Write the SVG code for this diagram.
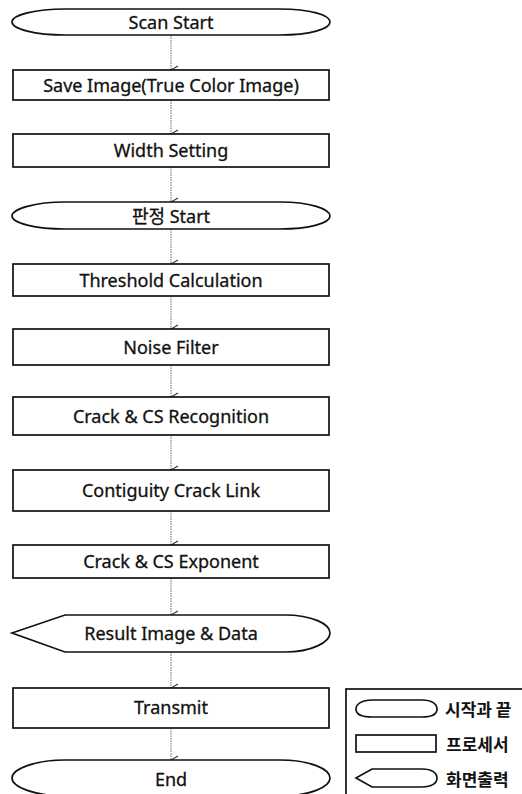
<svg xmlns="http://www.w3.org/2000/svg" width="522" height="794" viewBox="0 0 522 794">
<defs>
<style>
.s{fill:#fff;stroke:#111;stroke-width:1.7}
.t{font-family:"Noto Sans","Noto Sans CJK KR",sans-serif;font-size:18px;fill:#111;stroke:#111;stroke-width:0.3;text-anchor:middle;dominant-baseline:central}
.lt{font-family:"Noto Sans CJK KR",sans-serif;font-size:17px;font-weight:bold;fill:#111;dominant-baseline:central}
.c{stroke:#666;stroke-width:1;stroke-dasharray:1.5 1;fill:none}
</style>
<marker id="ah" viewBox="0 0 10 10" refX="5" refY="9" markerWidth="10" markerHeight="10" markerUnits="userSpaceOnUse" orient="auto-start-reverse">
<path d="M1,2 L5,9 L9,2" fill="none" stroke="#333" stroke-width="1.1"/>
</marker>
</defs>
<rect width="522" height="794" fill="#fff"/>
<g id="connectors">
<line class="c" x1="171" y1="35" x2="171" y2="70" marker-end="url(#ah)"/>
<line class="c" x1="171" y1="100" x2="171" y2="134" marker-end="url(#ah)"/>
<line class="c" x1="171" y1="167" x2="171" y2="202" marker-end="url(#ah)"/>
<line class="c" x1="171" y1="229" x2="171" y2="264" marker-end="url(#ah)"/>
<line class="c" x1="171" y1="296" x2="171" y2="329" marker-end="url(#ah)"/>
<line class="c" x1="171" y1="365" x2="171" y2="397" marker-end="url(#ah)"/>
<line class="c" x1="171" y1="435" x2="171" y2="470" marker-end="url(#ah)"/>
<line class="c" x1="171" y1="511" x2="171" y2="545" marker-end="url(#ah)"/>
<line class="c" x1="171" y1="578" x2="171" y2="615" marker-end="url(#ah)"/>
<line class="c" x1="171" y1="652" x2="171" y2="688" marker-end="url(#ah)"/>
<line class="c" x1="171" y1="728" x2="171" y2="760" marker-end="url(#ah)"/>
</g>
<g id="n1">
<path class="s" d="M12,22 C12,15 35,9 65,9 L280,9 C310,9 330,15 330,22 C330,29 310,35 280,35 L65,35 C35,35 12,29 12,22 Z"/>
<text class="t" x="171" y="22">Scan Start</text>
</g>
<g id="n2">
<rect class="s" x="13" y="70" width="316" height="30"/>
<text class="t" x="171" y="85">Save Image(True Color Image)</text>
</g>
<g id="n3">
<rect class="s" x="13" y="134" width="316" height="33"/>
<text class="t" x="171" y="150">Width Setting</text>
</g>
<g id="n4">
<path class="s" d="M12,216 C12,209 35,202 65,202 L280,202 C310,202 330,209 330,216 C330,223 310,229 280,229 L65,229 C35,229 12,223 12,216 Z"/>
<text class="t" x="171" y="216">판정 Start</text>
</g>
<g id="n5">
<rect class="s" x="13" y="264" width="316" height="32"/>
<text class="t" x="171" y="280">Threshold Calculation</text>
</g>
<g id="n6">
<rect class="s" x="13" y="329" width="316" height="36"/>
<text class="t" x="171" y="347">Noise Filter</text>
</g>
<g id="n7">
<rect class="s" x="13" y="397" width="316" height="38"/>
<text class="t" x="171" y="416">Crack &amp; CS Recognition</text>
</g>
<g id="n8">
<rect class="s" x="13" y="470" width="316" height="41"/>
<text class="t" x="171" y="490">Contiguity Crack Link</text>
</g>
<g id="n9">
<rect class="s" x="13" y="545" width="316" height="33"/>
<text class="t" x="171" y="561">Crack &amp; CS Exponent</text>
</g>
<g id="n10">
<path class="s" d="M12,633 L65,615 L285,615 C312,615 330,624 330,633 C330,642 312,652 285,652 L65,652 Z"/>
<text class="t" x="171" y="633">Result Image &amp; Data</text>
</g>
<g id="n11">
<rect class="s" x="13" y="688" width="316" height="40"/>
<text class="t" x="171" y="707">Transmit</text>
</g>
<g id="n12">
<path class="s" d="M12,778 C12,769 35,760 65,760 L280,760 C310,760 330,769 330,778 C330,787 310,796 280,796 L65,796 C35,796 12,787 12,778 Z"/>
<text class="t" x="171" y="779">End</text>
</g>
<g id="legend">
<rect class="s" x="346" y="689" width="190" height="110"/>
<path class="s" d="M356,709 C356,704 362,700 372,700 L422,700 C432,700 437,704 437,709 C437,714 432,717 422,717 L372,717 C362,717 356,714 356,709 Z"/>
<text class="lt" x="445" y="708">시작과 끝</text>
<rect class="s" x="356" y="735" width="80" height="17"/>
<text class="lt" x="446" y="743">프로세서</text>
<path class="s" d="M356,778 L372,769 L422,769 C432,769 437,773 437,778 C437,783 432,787 422,787 L372,787 Z"/>
<text class="lt" x="446" y="778">화면출력</text>
</g>
</svg>
